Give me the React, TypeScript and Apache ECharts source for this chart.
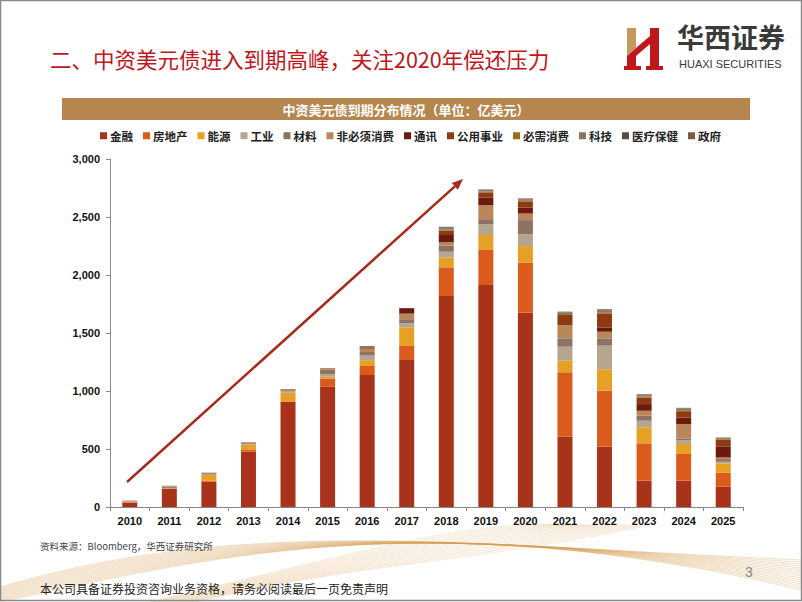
import React, { useEffect, useRef } from "react";
import * as echarts from "echarts";

const years = ["2010","2011","2012","2013","2014","2015","2016","2017","2018","2019","2020","2021","2022","2023","2024","2025"];
const seriesNames = ["金融","房地产","能源","工业","材料","非必须消费","通讯","公用事业","必需消费","科技","医疗保健","政府"];
const finance =     [38, 158, 218, 477, 905, 1036, 1138, 1273, 1819, 1914, 1675, 606, 520, 227, 227, 175];
const realEstate =  [4, 2, 8, 15, 5, 72, 78, 115, 247, 302, 433, 555, 483, 322, 230, 121];
const energy =      [4, 0, 50, 45, 75, 15, 50, 161, 86, 129, 141, 100, 184, 138, 86, 80];
const industry =    [3, 5, 10, 8, 12, 20, 40, 35, 49, 92, 103, 121, 204, 57, 34, 14];
const materials =   [3, 10, 10, 10, 10, 40, 30, 35, 52, 37, 121, 72, 63, 43, 14, 23];
const discretion =  [3, 8, 0, 5, 10, 15, 30, 48, 29, 129, 57, 115, 57, 43, 123, 14];
const telecom =     [0, 0, 0, 0, 0, 0, 10, 47, 63, 63, 52, 0, 37, 57, 57, 92];
const utilities =   [0, 0, 0, 0, 0, 0, 0, 0, 37, 46, 49, 86, 121, 57, 55, 63];
const staples =     [0, 0, 0, 0, 0, 0, 0, 0, 10, 8, 8, 8, 10, 8, 8, 5];
const tech =        [0, 0, 0, 0, 0, 0, 12, 0, 14, 12, 12, 12, 15, 12, 12, 7];
const health =      [0, 0, 0, 0, 0, 0, 0, 0, 5, 3, 4, 4, 6, 4, 4, 2];
const government =  [0, 0, 0, 0, 0, 0, 0, 0, 5, 3, 5, 5, 6, 5, 5, 3];
const seriesData = [finance, realEstate, energy, industry, materials, discretion, telecom, utilities, staples, tech, health, government];
const colors = ["#A9321A","#DA5B1C","#E6A125","#B5A58E","#8C7267","#B98659","#6B1A0D","#8E3A14","#9A6C1E","#87785F","#5A4C44","#7B5A44"];
const yTicks = [0, 500, 1000, 1500, 2000, 2500, 3000];

const pageTitle = "二、中资美元债进入到期高峰，关注2020年偿还压力";
const chartTitle = "中资美元债到期分布情况（单位：亿美元）";
const sourceText = "资料来源：Bloomberg，华西证券研究所";
const disclaimer = "本公司具备证券投资咨询业务资格，请务必阅读最后一页免责声明";

const CJK = "'Noto Sans CJK SC', sans-serif";

export default function App() {
  const ref = useRef<HTMLDivElement>(null);
  useEffect(() => {
    if (!ref.current) return;
    const chart = echarts.init(ref.current, null, { renderer: "svg" });

    const waves: any[] = [];
    for (let i = 0; i < 16; i++) {
      const o = i * 3;
      waves.push({
        type: "bezierCurve",
        silent: true,
        z: -10,
        shape: { x1: 0, y1: 602 - i, cpx1: 200 + o, cpy1: 560 - o, cpx2: 420 + o, cpy2: 500 + o, x2: 802, y2: 590 - i * 2 },
        style: { stroke: "#D49A4E", lineWidth: 1, opacity: 0.3, fill: null },
      });
      waves.push({
        type: "bezierCurve",
        silent: true,
        z: -10,
        shape: { x1: 150 + o, y1: 602, cpx1: 330 + o, cpy1: 560, cpx2: 460, cpy2: 520 + o, x2: 560 + o * 2, y2: 525 },
        style: { stroke: "#DDAF70", lineWidth: 1, opacity: 0.28, fill: null },
      });
    }

    const ax = 127, ay = 482, bx = 463, by = 179;
    const dx = bx - ax, dy = by - ay;
    const len = Math.sqrt(dx * dx + dy * dy);
    const ux = dx / len, uy = dy / len;
    const px = -uy, py = ux;
    const hb = { x: bx - 11 * ux, y: by - 11 * uy };

    const option: any = {
      animation: false,
      color: colors,
      textStyle: { fontFamily: CJK },
      grid: { left: 110, right: 59, top: 159, bottom: 95, containLabel: false },
      legend: {
        top: 130,
        left: 100,
        icon: "rect",
        itemWidth: 7,
        itemHeight: 7,
        itemGap: 10,
        padding: 0,
        data: seriesNames,
        textStyle: { fontSize: 11.5, fontWeight: "bold", color: "#222", fontFamily: CJK, padding: [0, 0, 0, -2] },
      },
      xAxis: {
        type: "category",
        data: years,
        axisLine: { lineStyle: { color: "#888", width: 1 } },
        axisTick: { show: true, alignWithLabel: false, length: 4, lineStyle: { color: "#888" } },
        axisLabel: { color: "#111", fontWeight: "bold", fontSize: 11, fontFamily: "'Liberation Sans', Arial, sans-serif", margin: 8 },
      },
      yAxis: {
        type: "value",
        min: 0,
        max: 3000,
        interval: 500,
        splitLine: { show: false },
        axisLine: { show: true, lineStyle: { color: "#888", width: 1 } },
        axisTick: { show: true, length: 4, lineStyle: { color: "#888" } },
        axisLabel: {
          color: "#111",
          fontWeight: "bold",
          fontSize: 11,
          fontFamily: "'Liberation Sans', Arial, sans-serif",
          margin: 10,
          formatter: (v: number) => (yTicks.includes(v) ? v.toLocaleString("en-US") : ""),
        },
      },
      series: seriesNames.map((name, i) => ({
        name,
        type: "bar",
        stack: "total",
        barWidth: 15,
        data: seriesData[i],
        itemStyle: { color: colors[i] },
      })),
      graphic: [
        ...waves,
        { type: "rect", silent: true, shape: { x: 0.5, y: 0.5, width: 801, height: 600 }, style: { fill: null, stroke: "#8A8A8A", lineWidth: 1.5 } },
        {
          type: "text",
          left: 50,
          top: 48,
          style: { text: pageTitle, fill: "#C0161C", fontSize: 21.5, fontFamily: CJK },
        },
        // logo mark
        { type: "polygon", shape: { points: [[627, 28], [636, 28], [636, 48], [627, 56]] }, style: { fill: "#C49A5A" } },
        { type: "polygon", shape: { points: [[627, 56], [636, 48], [636, 66], [641, 66], [641, 70], [624, 70], [624, 66], [627, 66]] }, style: { fill: "#C0161C" } },
        { type: "polygon", shape: { points: [[636, 48], [650, 36], [650, 44], [636, 56]] }, style: { fill: "#C0161C" } },
        { type: "polygon", shape: { points: [[650, 28], [659, 28], [659, 66], [663, 66], [663, 70], [646, 70], [646, 66], [650, 66]] }, style: { fill: "#C0161C" } },
        { type: "text", left: 677, top: 23, style: { text: "华西证券", fill: "#3A3A3A", fontSize: 27, fontWeight: "bold", fontFamily: CJK } },
        { type: "text", left: 679, top: 58, style: { text: "HUAXI SECURITIES", fill: "#3A3A3A", fontSize: 11, fontFamily: "'Liberation Sans Narrow', 'Liberation Sans', Arial, sans-serif" } },
        // chart title bar
        { type: "rect", shape: { x: 62, y: 98, width: 688, height: 22 }, style: { fill: "#B5874F" } },
        { type: "text", x: 406, y: 109, style: { text: chartTitle, fill: "#FFFFFF", fontSize: 13, fontWeight: "bold", fontFamily: CJK, align: "center", verticalAlign: "middle" } },
        // arrow
        { type: "line", z: 50, shape: { x1: ax, y1: ay, x2: hb.x, y2: hb.y }, style: { stroke: "#A8281A", lineWidth: 2.5 } },
        { type: "polygon", z: 50, shape: { points: [[bx, by], [hb.x + 4.5 * px, hb.y + 4.5 * py], [hb.x - 4.5 * px, hb.y - 4.5 * py]] }, style: { fill: "#A8281A" } },
        // footer
        { type: "text", left: 40, top: 541, style: { text: sourceText, fill: "#444", fontSize: 9.5, fontFamily: CJK } },
        { type: "text", left: 40, top: 582, style: { text: disclaimer, fill: "#222", fontSize: 12, fontFamily: CJK } },
        { type: "text", left: 745, top: 565, style: { text: "3", fill: "#888", fontSize: 14, fontFamily: "'Liberation Sans', Arial, sans-serif" } },
      ],
    };
    chart.setOption(option);
    return () => chart.dispose();
  }, []);
  return <div ref={ref} style={{ position: "fixed", left: 0, top: 0, width: 802, height: 602, background: "#fff" }} />;
}
